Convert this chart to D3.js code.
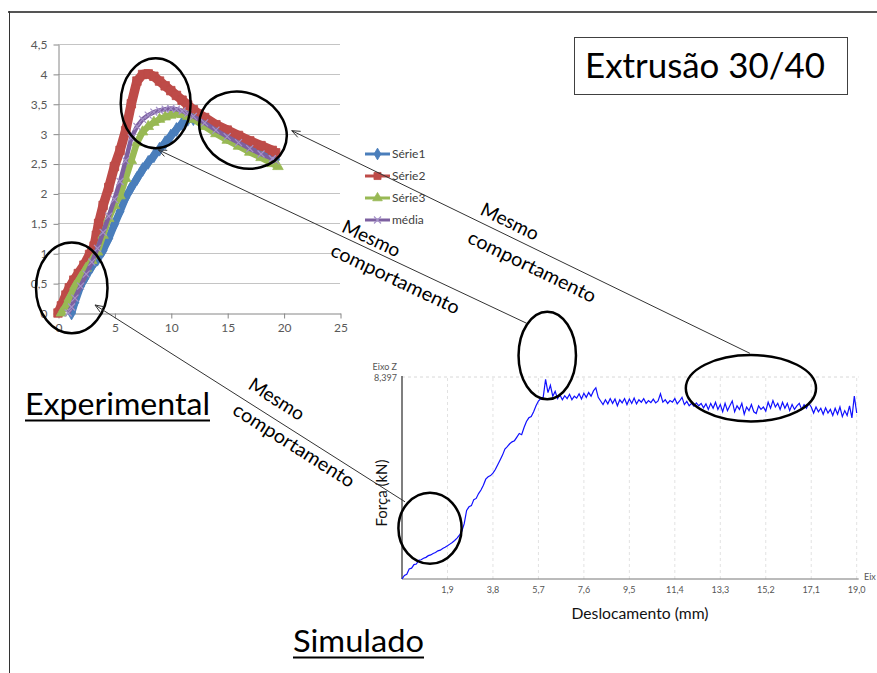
<!DOCTYPE html>
<html><head><meta charset="utf-8">
<script src="https://cdn.jsdelivr.net/npm/d3@7"></script>
<style>body{margin:0;background:#fff}svg{display:block;font-family:Lato,"Open Sans",sans-serif}</style>
</head><body><svg id="c" width="877" height="673"></svg>
<script>
// ---------- DATA ----------
const expXTicks = [0, 5, 10, 15, 20, 25];
const expYTicks = [0, 0.5, 1, 1.5, 2, 2.5, 3, 3.5, 4, 4.5];
const expYLabels = ["0", "0,5", "1", "1,5", "2", "2,5", "3", "3,5", "4", "4,5"];
const seriesNames = ["Série1", "Série2", "Série3", "média"];

const serie1X = [1.2,1.5,2.0,2.5,3.0,3.5,4.0,4.5,5.0,5.5,6.0,6.5,7.0,7.5,8.0,8.5,9.0,9.5,10,10.5,11,11.5,12,13,14,15,16,17,18,19,19.3];
const serie1Y = [0,0.18,0.45,0.62,0.78,0.9,1.05,1.25,1.48,1.7,1.93,2.1,2.25,2.4,2.52,2.63,2.74,2.85,2.96,3.07,3.17,3.24,3.25,3.18,3.06,2.95,2.86,2.77,2.68,2.6,2.57];
const serie2X = [0,0.3,0.7,1.0,1.4,1.8,2.3,2.8,3.2,3.4,3.6,4.0,4.5,5.0,5.5,6.0,6.5,7.0,7.5,8.0,8.5,9.0,9.5,10,10.5,11,11.5,12,12.5,13,14,15,16,17,18,19,19.3];
const serie2Y = [0,0.12,0.3,0.42,0.55,0.66,0.8,0.98,1.12,1.3,1.5,1.8,2.1,2.45,2.72,3.05,3.5,3.88,3.99,4.0,3.96,3.88,3.8,3.72,3.64,3.56,3.48,3.4,3.33,3.27,3.15,3.06,2.97,2.88,2.8,2.72,2.68];
const serie3X = [0.3,0.7,1.0,1.5,2.0,2.5,3.0,3.5,4.0,4.5,5.0,5.5,6.0,6.5,7.0,7.5,8.0,8.5,9.0,9.5,10,10.5,11,11.5,12,13,14,15,16,17,18,19,19.5];
const serie3Y = [0,0.12,0.25,0.45,0.6,0.75,0.88,1.02,1.3,1.58,1.8,1.96,2.25,2.55,2.85,3.03,3.12,3.19,3.24,3.28,3.31,3.33,3.32,3.29,3.24,3.12,3.0,2.89,2.79,2.69,2.6,2.5,2.45];
const mediaX = [0.9,1.2,1.5,2.0,2.5,3.0,3.5,4.0,4.5,5.0,5.5,6.0,6.5,7.0,7.5,8.0,8.5,9.0,9.5,10,10.5,11,11.5,12,13,14,15,16,17,18,19,19.3];
const mediaY = [0,0.1,0.25,0.45,0.65,0.85,1.08,1.35,1.62,1.9,2.2,2.55,2.93,3.12,3.24,3.31,3.36,3.39,3.41,3.42,3.41,3.38,3.34,3.29,3.18,3.06,2.95,2.85,2.75,2.66,2.58,2.55];

const simXTicks = [1.9, 3.8, 5.7, 7.6, 9.5, 11.4, 13.3, 15.2, 17.1, 19.0];
const simXLabels = ["1,9", "3,8", "5,7", "7,6", "9,5", "11,4", "13,3", "15,2", "17,1", "19,0"];
const simYMax = 8.397;
const simYMaxLabel = "8,397";
const simPoints = [
[0,0],[0.1,0.15],[0.2,0.2],[0.3,0.42],[0.4,0.45],[0.5,0.6],[0.6,0.62],[0.7,0.78],[0.8,0.8],[0.9,0.86],
[1.0,0.9],[1.1,0.97],[1.2,1.0],[1.3,1.06],[1.4,1.1],[1.5,1.17],[1.6,1.2],[1.7,1.27],[1.8,1.32],[1.9,1.38],
[2.0,1.45],[2.1,1.52],[2.2,1.6],[2.3,1.7],[2.4,1.82],[2.5,1.98],[2.6,2.3],[2.7,2.85],[2.8,3.0],[2.9,3.05],
[3.0,3.3],[3.1,3.35],[3.2,3.55],[3.3,3.7],[3.4,3.9],[3.5,4.15],[3.6,4.25],[3.7,4.3],[3.8,4.4],[3.9,4.55],
[4.0,4.75],[4.1,4.95],[4.2,5.15],[4.3,5.4],[4.4,5.5],[4.5,5.62],[4.6,5.7],[4.7,5.75],[4.8,5.9],[4.9,6.05],
[5.0,6.0],[5.1,6.3],[5.2,6.55],[5.3,6.7],[5.4,6.75],[5.5,6.95],[5.6,7.2],[5.7,7.4],[5.8,7.5],[5.9,7.55],
[6.0,8.3],[6.1,7.75],[6.2,8.05],[6.3,7.6],[6.4,7.8],[6.5,7.5],[6.6,7.65],[6.7,7.45],[6.8,7.62],[6.9,7.5],
[7.0,7.68],[7.1,7.45],[7.2,7.6],[7.3,7.52],[7.4,7.7],[7.5,7.48],[7.6,7.72],[7.7,7.55],[7.8,7.75],[7.9,7.6],
[8.0,7.82],[8.1,7.95],[8.2,7.55],[8.3,7.4],[8.4,7.25],[8.5,7.45],[8.6,7.28],[8.7,7.5],[8.8,7.3],[8.9,7.48],
[9.0,7.2],[9.1,7.45],[9.2,7.32],[9.3,7.5],[9.4,7.25],[9.5,7.48],[9.6,7.3],[9.7,7.52],[9.8,7.28],[9.9,7.45],
[10.0,7.35],[10.1,7.5],[10.2,7.3],[10.3,7.42],[10.4,7.33],[10.5,7.48],[10.6,7.32],[10.7,7.4],[10.8,7.7],[10.9,7.35],
[11.0,7.45],[11.1,7.3],[11.2,7.42],[11.3,7.35],[11.4,7.5],[11.5,7.28],[11.6,7.4],[11.7,7.55],[11.8,7.25],[11.9,7.38],
[12.0,7.2],[12.1,7.3],[12.2,7.18],[12.3,7.32],[12.4,7.2],[12.5,7.3],[12.6,7.12],[12.7,7.28],[12.8,7.05],[12.9,7.3],
[13.0,7.1],[13.1,7.35],[13.2,7.05],[13.3,7.25],[13.4,6.95],[13.5,7.3],[13.6,7.0],[13.7,7.2],[13.8,7.4],[13.9,6.95],
[14.0,7.2],[14.1,7.05],[14.2,7.3],[14.3,6.85],[14.4,7.15],[14.5,7.0],[14.6,7.25],[14.7,6.95],[14.8,6.88],[14.9,7.2],
[15.0,7.05],[15.1,7.15],[15.2,6.98],[15.3,7.35],[15.4,7.1],[15.5,7.42],[15.6,7.15],[15.7,7.3],[15.8,7.05],[15.9,7.35],
[16.0,7.1],[16.1,7.3],[16.2,7.0],[16.3,7.25],[16.4,7.05],[16.5,7.2],[16.6,7.3],[16.7,7.05],[16.8,7.25],[16.9,7.1],
[17.0,7.3],[17.1,7.15],[17.2,6.9],[17.3,7.15],[17.4,6.95],[17.5,7.1],[17.6,6.85],[17.7,7.12],[17.8,6.9],[17.9,7.05],
[18.0,6.8],[18.1,7.1],[18.2,6.85],[18.3,7.15],[18.4,6.75],[18.5,7.0],[18.6,6.8],[18.7,7.2],[18.8,6.7],[18.9,7.6],
[19.0,6.9]
];

// annotation anchors (in each chart's data units)
const ellipseChart = ["exp", "exp", "exp", "sim", "sim", "sim"];
const ellipseCX = [8.66, 16.4, 1.22, 1.17, 6.07, 14.58];
const ellipseCY = [3.51, 3.06, 0.42, 2.11, 9.29, 7.93];
const ellipseRX = [3.10, 3.99, 3.17, 1.32, 1.20, 2.72];
const ellipseRY = [0.753, 0.619, 0.758, 1.48, 1.82, 1.38];
const arrowSimX = [14.54, 5.21, 0.125];
const arrowSimY = [9.38, 10.63, 3.21];
const arrowExpX = [20.72, 8.89, 3.28];
const arrowExpY = [3.05, 2.73, 0.134];
const arrowText = ["Mesmo", "comportamento"];

// ---------- DRAW ----------
const svg = d3.select("#c");
svg.append("rect").attr("width", 877).attr("height", 673).attr("fill", "#fff");
svg.append("line").attr("x1", 8).attr("x2", 877).attr("y1", 12).attr("y2", 12).attr("stroke", "#555").attr("stroke-width", 2);
svg.append("line").attr("x1", 9.5).attr("x2", 9.5).attr("y1", 11).attr("y2", 673).attr("stroke", "#333").attr("stroke-width", 1);

// ===== Experimental chart =====
const xT = d3.scaleLinear().domain([0, 25]).range([58, 340]);
const yT = d3.scaleLinear().domain([0, 4.5]).range([313, 44]);
const gT = svg.append("g");
gT.selectAll("line.grid").data(expYTicks.filter(d => d > 0)).join("line")
  .attr("x1", xT(0)).attr("x2", xT(25))
  .attr("y1", d => Math.round(yT(d)) + 0.5).attr("y2", d => Math.round(yT(d)) + 0.5)
  .attr("stroke", "#c4c4c4").attr("stroke-width", 1);

function styleAxis(g, col, txt, fs) {
  g.selectAll("path.domain").attr("stroke", col);
  g.selectAll(".tick line").attr("stroke", col);
  g.selectAll("text").attr("fill", txt).attr("font-size", fs).attr("font-family", "Lato, 'Open Sans', sans-serif");
}
const yAx = gT.append("g").attr("transform", `translate(${xT(0) + 0.5},0.5)`)
  .call(d3.axisLeft(yT).tickValues(expYTicks).tickFormat((d, i) => expYLabels[i]).tickSize(5).tickSizeOuter(0).tickPadding(6));
styleAxis(yAx, "#868686", "#595959", 12);
const xAx = gT.append("g").attr("transform", `translate(0.5,${Math.round(yT(0)) + 0.5})`)
  .call(d3.axisBottom(xT).tickValues(expXTicks).tickFormat(d => d).tickSize(5).tickSizeOuter(0).tickPadding(5));
styleAxis(xAx, "#868686", "#595959", 12);

const seriesDefs = [
  {name: seriesNames[0], xs: serie1X, ys: serie1Y, color: "#4a7ebb", mcolor: "#4a7ebb", marker: "diamond", w: 7.5, ms: 55, lms: 40},
  {name: seriesNames[1], xs: serie2X, ys: serie2Y, color: "#be4b48", mcolor: "#be4b48", marker: "square", w: 9.5, ms: 72, lms: 50},
  {name: seriesNames[2], xs: serie3X, ys: serie3Y, color: "#98b954", mcolor: "#98b954", marker: "triangle", w: 6.5, ms: 48, lms: 40},
  {name: seriesNames[3], xs: mediaX, ys: mediaY, color: "#7d60a0", mcolor: "#a592c8", marker: "x", w: 4.5, ms: 7, lms: 7}
];
function markerPath(type, size) {
  if (type === "diamond") return d3.symbol().type(d3.symbolDiamond).size(size)();
  if (type === "square") return d3.symbol().type(d3.symbolSquare).size(size)();
  if (type === "triangle") return d3.symbol().type(d3.symbolTriangle).size(size)();
  const h = size / 2;
  return `M${-h},${-h}L${h},${h}M${h},${-h}L${-h},${h}`;
}
const lineT = d3.line().x(d => xT(d[0])).y(d => yT(d[1]));
seriesDefs.forEach(s => {
  const pts = d3.zip(s.xs, s.ys);
  const g = gT.append("g");
  g.append("path").attr("d", lineT(pts)).attr("fill", "none").attr("stroke", s.color)
    .attr("stroke-width", s.w).attr("stroke-linejoin", "round");
  g.selectAll("path.m").data(pts).join("path")
    .attr("transform", d => `translate(${xT(d[0])},${yT(d[1])})`)
    .attr("d", markerPath(s.marker, s.ms))
    .attr("fill", s.marker === "x" ? "none" : s.mcolor)
    .attr("stroke", s.mcolor).attr("stroke-width", s.marker === "x" ? 1.2 : 0.8);
});

// legend
const legY = d3.scaleBand().domain(seriesNames).range([143, 231]);
const leg = svg.append("g");
seriesDefs.forEach(s => {
  const y = legY(s.name) + legY.bandwidth() / 2;
  leg.append("line").attr("x1", 365).attr("x2", 390).attr("y1", y).attr("y2", y)
    .attr("stroke", s.color).attr("stroke-width", 3);
  leg.append("path").attr("transform", `translate(377.5,${y})`).attr("d", markerPath(s.marker, s.lms))
    .attr("fill", s.marker === "x" ? "none" : s.mcolor).attr("stroke", s.mcolor).attr("stroke-width", s.marker === "x" ? 1.2 : 0.8);
  leg.append("text").attr("x", 392).attr("y", y).attr("dy", "0.35em").attr("font-size", 12)
    .attr("fill", "#404040").text(s.name);
});

// ===== Simulated chart =====
const xS = d3.scaleLinear().domain([0, 19]).range([402, 856.7]);
const yS = d3.scaleLinear().domain([0, simYMax]).range([579, 377]);
const gS = svg.append("g");
gS.selectAll("line.vg").data(simXTicks).join("line")
  .attr("x1", d => xS(d)).attr("x2", d => xS(d)).attr("y1", yS(0)).attr("y2", yS(simYMax))
  .attr("stroke", "#e2e2e2").attr("stroke-dasharray", "3,3");
gS.append("line").attr("x1", xS(0)).attr("x2", xS(19) + 2).attr("y1", yS(simYMax)).attr("y2", yS(simYMax))
  .attr("stroke", "#d8d8d8").attr("stroke-dasharray", "3,3");
gS.append("line").attr("x1", xS(0)).attr("x2", xS(0)).attr("y1", yS(simYMax) - 1).attr("y2", yS(0))
  .attr("stroke", "#555").attr("stroke-width", 1.5);
gS.append("line").attr("x1", xS(0)).attr("x2", xS(19) + 2).attr("y1", yS(0)).attr("y2", yS(0))
  .attr("stroke", "#777").attr("stroke-width", 1);
gS.selectAll("text.xl").data(simXTicks).join("text")
  .attr("x", d => xS(d)).attr("y", 593).attr("text-anchor", "middle")
  .attr("font-size", 9).attr("fill", "#555").text((d, i) => simXLabels[i]);
gS.append("text").attr("x", 397).attr("y", 381).attr("text-anchor", "end").attr("font-size", 9).attr("fill", "#555").text(simYMaxLabel);
gS.append("text").attr("x", 397).attr("y", 370).attr("text-anchor", "end").attr("font-size", 9).attr("fill", "#555").text("Eixo Z");
gS.append("text").attr("x", 864).attr("y", 580).attr("font-size", 9).attr("fill", "#555").text("Eix");
const lineS = d3.line().x(d => xS(d[0])).y(d => yS(d[1]));
gS.append("path").attr("d", lineS(simPoints)).attr("fill", "none").attr("stroke", "#1010ff").attr("stroke-width", 1.2);
gS.append("text").attr("x", 640).attr("y", 619).attr("text-anchor", "middle").attr("font-size", 15.5)
  .attr("textLength", 137).attr("lengthAdjust", "spacingAndGlyphs").attr("fill", "#111").text("Deslocamento (mm)");
gS.append("text").attr("transform", "translate(387,493) rotate(-90)").attr("text-anchor", "middle").attr("font-size", 15.5)
  .attr("textLength", 67).attr("lengthAdjust", "spacingAndGlyphs").attr("fill", "#111").text("Força (kN)");

// ===== Titles =====
svg.append("rect").attr("x", 574.5).attr("y", 37.5).attr("width", 273).attr("height", 57)
  .attr("fill", "none").attr("stroke", "#404040").attr("stroke-width", 1);
svg.append("text").attr("x", 585).attr("y", 78).attr("font-size", 35).attr("textLength", 240)
  .attr("lengthAdjust", "spacingAndGlyphs").attr("fill", "#000").text("Extrusão 30/40");
function underlined(txt, x, y, w, fs) {
  svg.append("text").attr("x", x).attr("y", y).attr("font-size", fs).attr("textLength", w)
    .attr("lengthAdjust", "spacingAndGlyphs").attr("fill", "#000").text(txt);
  svg.append("line").attr("x1", x).attr("x2", x + w).attr("y1", y + 5.5).attr("y2", y + 5.5)
    .attr("stroke", "#000").attr("stroke-width", 2);
}
underlined("Experimental", 25, 415, 185, 31);
underlined("Simulado", 293, 652, 131, 31);

// ===== Annotations =====
const scales = {exp: [xT, yT], sim: [xS, yS]};
ellipseCX.forEach((cx, i) => {
  const [sx, sy] = scales[ellipseChart[i]];
  const px = sx(cx), py = sy(ellipseCY[i]);
  const rx = sx(cx + ellipseRX[i]) - px, ry = py - sy(ellipseCY[i] + ellipseRY[i]);
  const rot = i === 1 ? 25 : 0;
  svg.append("ellipse").attr("cx", px).attr("cy", py).attr("rx", rx).attr("ry", ry)
    .attr("transform", `rotate(${rot},${px},${py})`)
    .attr("fill", "none").attr("stroke", "#000").attr("stroke-width", 2.5);
});
const textPlace = [
  {mesmo: [0.463, -13.7], comp: [0.541, 17.2]},
  {mesmo: [0.566, -10.7], comp: [0.662, 15.7]},
  {mesmo: [0.555, -18], comp: [0.662, 11.6]}
];
arrowSimX.forEach((_, i) => {
  const x0 = xT(arrowExpX[i]), y0 = yT(arrowExpY[i]);
  const x1 = xS(arrowSimX[i]), y1 = yS(arrowSimY[i]);
  svg.append("line").attr("x1", x0).attr("y1", y0).attr("x2", x1).attr("y2", y1)
    .attr("stroke", "#333").attr("stroke-width", 1);
  const ang = Math.atan2(y1 - y0, x1 - x0);
  const L = 9, spread = 0.38;
  const head = `M${x0 + L * Math.cos(ang - spread)},${y0 + L * Math.sin(ang - spread)}L${x0},${y0}L${x0 + L * Math.cos(ang + spread)},${y0 + L * Math.sin(ang + spread)}`;
  svg.append("path").attr("d", head).attr("fill", "none").attr("stroke", "#333").attr("stroke-width", 1);
  const len = Math.hypot(x1 - x0, y1 - y0);
  const nx = -(y1 - y0) / len, ny = (x1 - x0) / len;
  const deg = ang * 180 / Math.PI;
  [[arrowText[0], textPlace[i].mesmo, 62], [arrowText[1], textPlace[i].comp, 140]].forEach(([t, p, w]) => {
    const cx = x0 + p[0] * (x1 - x0) + p[1] * nx;
    const cy = y0 + p[0] * (y1 - y0) + p[1] * ny;
    svg.append("text").attr("transform", `translate(${cx},${cy}) rotate(${deg})`)
      .attr("text-anchor", "middle").attr("dy", "0.35em").attr("font-size", 19)
      .attr("textLength", w).attr("lengthAdjust", "spacingAndGlyphs").attr("fill", "#000").text(t);
  });
});
</script></body></html>
